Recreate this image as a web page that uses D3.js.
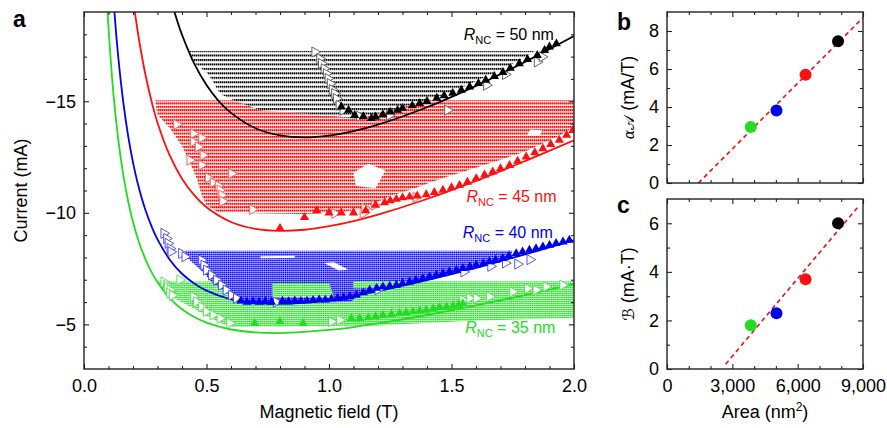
<!DOCTYPE html>
<html><head><meta charset="utf-8">
<script src="https://cdn.jsdelivr.net/npm/d3@7"></script>
<style>
body{margin:0;background:#fff;}
svg{font-family:"Liberation Sans",Arial,Helvetica,sans-serif;}
</style></head><body>
<svg id="chart" width="887" height="428"></svg>
<script>
// ---------------- DATA ----------------
// Fit curves, panel a (field B in T, current I in mA)
const fitB_50 = [0.30,0.33,0.35,0.38,0.40,0.45,0.50,0.55,0.60,0.70,0.80,0.90,1.00,1.10,1.20,1.40,1.60,1.80,2.00];
const fitI_50 = [-22.24,-20.64,-19.75,-18.62,-17.98,-16.69,-15.73,-15.01,-14.48,-13.79,-13.47,-13.38,-13.46,-13.66,-13.95,-14.73,-15.69,-16.76,-17.92];
const fitB_45 = [0.18,0.20,0.22,0.25,0.28,0.30,0.35,0.40,0.45,0.50,0.60,0.70,0.80,0.90,1.00,1.10,1.20,1.40,1.60,1.80,2.00];
const fitI_45 = [-21.58,-19.64,-18.07,-16.23,-14.81,-14.04,-12.57,-11.53,-10.79,-10.25,-9.59,-9.28,-9.19,-9.24,-9.40,-9.63,-9.92,-10.62,-11.43,-12.32,-13.25];
const fitB_40 = [0.10,0.12,0.14,0.16,0.18,0.20,0.22,0.25,0.28,0.30,0.35,0.40,0.45,0.50,0.60,0.70,0.80,0.90,1.00,1.10,1.20,1.40,1.60,1.80,2.00];
const fitI_40 = [-23.38,-19.62,-16.96,-14.98,-13.46,-12.26,-11.29,-10.15,-9.28,-8.81,-7.90,-7.27,-6.83,-6.51,-6.12,-5.95,-5.92,-5.98,-6.11,-6.28,-6.49,-6.98,-7.53,-8.14,-8.77];
const fitB_35 = [0.09,0.10,0.12,0.14,0.16,0.18,0.20,0.22,0.25,0.28,0.30,0.35,0.40,0.45,0.50,0.60,0.70,0.80,0.90,1.00,1.10,1.20,1.40,1.60,1.80,2.00];
const fitI_35 = [-20.27,-18.30,-15.35,-13.27,-11.72,-10.53,-9.59,-8.83,-7.94,-7.25,-6.89,-6.18,-5.68,-5.33,-5.08,-4.77,-4.64,-4.61,-4.66,-4.75,-4.88,-5.04,-5.42,-5.85,-6.31,-6.80];

// Simulated (dotted) regions, polygon outlines [B, I]
const region50 = [[0.43,-17.25],[1.84,-17.25],[1.78,-16.85],[1.71,-16.45],[1.63,-16.05],[1.55,-15.65],[1.47,-15.3],[1.39,-15.0],[1.32,-14.8],[1.25,-14.6],[1.18,-14.4],[1.12,-14.2],[1.05,-14.3],[0.9,-14.45],[0.72,-14.6],[0.62,-15.0],[0.56,-15.3],[0.54,-15.6],[0.52,-16.0],[0.5,-16.3],[0.47,-16.55],[0.44,-16.8],[0.43,-17.0]];
const region45 = [[0.29,-15.05],[2.0,-15.05],[2.0,-13.85],[1.94,-13.45],[1.87,-13.1],[1.8,-12.75],[1.72,-12.45],[1.65,-12.2],[1.55,-11.85],[1.45,-11.5],[1.35,-11.1],[1.25,-10.75],[1.2,-10.5],[1.15,-10.2],[1.05,-10.02],[0.9,-9.95],[0.55,-10.0],[0.5,-10.35],[0.48,-10.8],[0.46,-11.55],[0.43,-12.3],[0.40,-13.0],[0.35,-13.8],[0.30,-14.4]];
const holes45 = [[[1.11,-11.2],[1.19,-11.1],[1.23,-11.9],[1.16,-12.2],[1.10,-11.8]],[[1.81,-13.5],[1.86,-13.45],[1.87,-13.7],[1.82,-13.72]]];
const region40 = [[0.41,-8.3],[1.75,-8.3],[1.74,-8.05],[1.65,-7.8],[1.55,-7.5],[1.45,-7.2],[1.38,-7.0],[1.3,-6.8],[1.2,-6.55],[1.12,-6.3],[1.09,-6.0],[0.64,-5.95],[0.61,-6.15],[0.57,-6.5],[0.52,-6.9],[0.49,-7.3],[0.45,-7.7],[0.42,-8.0]];
const holes40 = [[[0.72,-8.05],[0.86,-8.08],[0.86,-7.98],[0.72,-7.96]],[[0.98,-7.75],[1.02,-7.78],[1.08,-7.45],[1.04,-7.42]]];
const region35 = [[0.30,-6.92],[2.0,-6.92],[2.0,-5.3],[1.56,-5.15],[1.2,-4.95],[0.6,-4.88],[0.55,-5.1],[0.5,-5.4],[0.45,-5.7],[0.38,-6.1],[0.32,-6.5]];
const patches35 = [[[0.77,-6.85],[1.0,-6.85],[1.02,-6.2],[0.77,-6.22]],[[1.1,-6.92],[2.0,-6.92],[2.0,-6.62],[1.1,-6.62]]];

// Measured points: filled (up triangles) and open (right triangles)
const filled50 = [[1.05,-14.75],[1.08,-14.6],[1.105,-14.37],[1.14,-14.32],[1.173,-14.23],[1.19,-14.3],[1.22,-14.4],[1.25,-14.52],[1.28,-14.6],[1.30,-14.69],[1.34,-14.8],[1.37,-14.9],[1.40,-15.0],[1.44,-15.14],[1.47,-15.25],[1.505,-15.36],[1.54,-15.5],[1.574,-15.65],[1.61,-15.8],[1.64,-15.95],[1.675,-16.12],[1.71,-16.3],[1.74,-16.48],[1.777,-16.69],[1.81,-16.88],[1.85,-17.06],[1.88,-17.28],[1.90,-17.44],[1.928,-17.58]];
const open50 = [[0.942,-17.21],[0.962,-16.91],[0.969,-16.69],[0.98,-16.46],[0.989,-16.24],[0.996,-16.02],[1.005,-15.79],[1.013,-15.52],[1.023,-15.35],[1.03,-15.12],[1.041,-14.82],[1.057,-14.6],[1.125,-14.33],[1.247,-14.37],[1.484,-14.6],[1.643,-15.72],[1.72,-16.2],[1.85,-16.76],[1.87,-16.99]];
const filled45 = [[0.80,-9.31],[0.90,-9.8],[0.95,-10.1],[1.0,-10.0],[1.05,-10.0],[1.10,-10.0],[1.15,-10.1],[1.19,-10.35],[1.227,-10.46],[1.25,-10.55],[1.275,-10.61],[1.30,-10.68],[1.329,-10.72],[1.36,-10.76],[1.397,-10.82],[1.43,-10.92],[1.465,-11.02],[1.50,-11.13],[1.533,-11.24],[1.565,-11.38],[1.601,-11.54],[1.635,-11.7],[1.668,-11.84],[1.70,-11.98],[1.737,-12.13],[1.77,-12.32],[1.805,-12.51],[1.84,-12.7],[1.873,-12.88],[1.905,-13.07],[1.94,-13.26],[1.97,-13.48],[1.995,-13.7]];
const open45 = [[0.378,-13.96],[0.446,-13.55],[0.48,-13.36],[0.446,-13.18],[0.466,-12.96],[0.486,-12.58],[0.432,-12.36],[0.48,-12.14],[0.602,-11.76],[0.507,-11.57],[0.527,-11.36],[0.548,-11.21],[0.555,-11.02],[0.562,-10.79],[0.566,-10.52],[0.688,-10.15],[1.023,-9.97],[1.139,-9.97],[1.146,-10.2],[1.186,-10.34],[1.355,-10.7]];
const filled40 = [[0.64,-6.05],[0.665,-6.0],[0.69,-6.02],[0.715,-6.0],[0.74,-6.03],[0.765,-6.0],[0.81,-6.05],[0.835,-6.02],[0.86,-6.06],[0.885,-6.04],[0.91,-6.05],[0.935,-6.08],[0.96,-6.1],[0.985,-6.1],[1.01,-6.14],[1.035,-6.17],[1.06,-6.2],[1.085,-6.25],[1.112,-6.31],[1.14,-6.42],[1.166,-6.54],[1.195,-6.62],[1.22,-6.69],[1.248,-6.72],[1.275,-6.76],[1.30,-6.84],[1.329,-6.91],[1.355,-6.98],[1.383,-7.06],[1.41,-7.13],[1.438,-7.21],[1.465,-7.28],[1.492,-7.36],[1.52,-7.43],[1.546,-7.51],[1.575,-7.58],[1.601,-7.66],[1.63,-7.73],[1.655,-7.81],[1.68,-7.88],[1.709,-7.96],[1.735,-8.07],[1.764,-8.18],[1.79,-8.25],[1.818,-8.33],[1.845,-8.4],[1.873,-8.48],[1.90,-8.55],[1.927,-8.63],[1.955,-8.7],[1.981,-8.78]];
const open40 = [[0.326,-9.08],[0.337,-8.85],[0.343,-8.63],[0.351,-8.40],[0.355,-8.25],[0.398,-8.18],[0.412,-8.03],[0.48,-7.88],[0.489,-7.66],[0.50,-7.43],[0.52,-7.21],[0.541,-6.99],[0.561,-6.76],[0.58,-6.54],[0.602,-6.31],[0.622,-6.17],[0.785,-6.0],[1.20,-6.55],[1.55,-7.35],[1.66,-7.6],[1.72,-7.75],[1.77,-7.7],[1.82,-7.9]];
const filled35 = [[0.697,-5.05],[0.799,-5.12],[0.894,-5.05],[1.091,-5.27],[1.125,-5.27],[1.16,-5.3],[1.19,-5.35],[1.22,-5.42],[1.255,-5.45],[1.288,-5.49],[1.315,-5.53],[1.343,-5.57],[1.37,-5.6],[1.397,-5.64],[1.425,-5.7],[1.451,-5.76],[1.48,-5.79],[1.506,-5.82],[1.53,-5.88],[1.546,-5.94]];
const open35 = [[0.326,-6.91],[0.337,-6.76],[0.34,-6.65],[0.351,-6.54],[0.35,-6.4],[0.36,-6.3],[0.391,-6.99],[0.446,-6.24],[0.459,-6.01],[0.48,-5.79],[0.50,-5.57],[0.527,-5.42],[0.555,-5.27],[0.595,-5.05],[1.01,-5.12],[1.044,-5.2],[1.546,-6.09],[1.574,-6.17],[1.601,-6.17],[1.655,-6.24],[1.75,-6.46],[1.81,-6.61],[1.845,-6.54],[1.886,-6.69],[1.954,-6.76]];

// Panels b and c
const radiiNC = [35, 40, 45, 50];
const areaNC = [3848, 5027, 6362, 7854];
const alphaA = [2.95, 3.81, 5.70, 7.46];
const betaB = [1.80, 2.30, 3.70, 6.00];
const fitLineB_x = [1440, 9000], fitLineB_y = [0, 8.7];
const fitLineC_x = [2695, 8830], fitLineC_y = [0.2, 6.74];

const xTicksA = [0, 0.5, 1.0, 1.5, 2.0];
const yTicksA = [-15, -10, -5];
const xTicksArea = [0, 3000, 6000, 9000];
const yTicksB = [0, 2, 4, 6, 8];
const yTicksC = [0, 2, 4, 6];

// ---------------- DRAWING ----------------
const C = {black:"#000000", red:"#ff1010", blue:"#0000f0", green:"#22dd22"};
const colorsNC = [C.green, C.blue, C.red, C.black];
const svg = d3.select("#chart");
const defs = svg.append("defs");
const FS = 18;

const xA = d3.scaleLinear().domain([0, 2]).range([84, 574]);
const yA = d3.scaleLinear().domain([-3, -19]).range([369, 12]);

defs.append("clipPath").attr("id","clipA").append("rect")
  .attr("x",xA(0)).attr("y",yA(-19)).attr("width",xA(2)-xA(0)).attr("height",yA(-3)-yA(-19));

function dotPattern(id, color, rowStep, dotStep, dw, dh, y0) {
  const h = Math.abs(yA(0) - yA(rowStep));
  const p = defs.append("pattern").attr("id", id).attr("patternUnits","userSpaceOnUse")
    .attr("width", dotStep).attr("height", h).attr("x", 0).attr("y", yA(y0) - dh/2);
  p.append("rect").attr("width", dw).attr("height", dh).attr("fill", color);
}
dotPattern("p50", C.black, 0.2, 2.0, 1.5, 2.0, -17.25);
dotPattern("p45", "#ff0000", 0.15, 2.0, 1.6, 2.0, -15.05);
dotPattern("p40", "#0000ee", 0.09, 1.9, 1.5, 1.6, -8.3);
dotPattern("p35", "#22dd22", 0.09, 1.9, 1.5, 1.6, -6.92);

const gA = svg.append("g");
const gPlot = gA.append("g").attr("clip-path","url(#clipA)");
const poly = d3.line().x(d => xA(d[0])).y(d => yA(d[1]));

function region(pts, pat, under) {
  if (under) gPlot.append("path").attr("d", poly(pts) + "Z").attr("fill", "#fff");
  gPlot.append("path").attr("d", poly(pts) + "Z").attr("fill", `url(#${pat})`);
}
function hole(pts) {
  gPlot.append("path").attr("d", poly(pts) + "Z").attr("fill", "#fff");
}
region(region35, "p35", false);
region(region40, "p40", true);
holes40.forEach(hole);
patches35.forEach(p => region(p, "p35", true));
region(region45, "p45", false);
holes45.forEach(hole);
region(region50, "p50", true);

// fit curves
const curveLine = d3.line().curve(d3.curveCatmullRom).x(d => xA(d[0])).y(d => yA(d[1]));
[[fitB_35, fitI_35, C.green],[fitB_40, fitI_40, C.blue],[fitB_45, fitI_45, C.red],[fitB_50, fitI_50, C.black]]
  .forEach(([bs, is, col]) => {
    gPlot.append("path").attr("d", curveLine(bs.map((b, i) => [b, is[i]])))
      .attr("fill","none").attr("stroke", col).attr("stroke-width", 1.8);
  });

// measured points
const triUp = d3.symbol().type(d3.symbolTriangle).size(36);
const triRight = d3.symbol().type(d3.symbolTriangle).size(44);
function openTri(data, col) {
  gPlot.append("g").selectAll("path").data(data).join("path")
    .attr("d", triRight())
    .attr("transform", d => `translate(${xA(d[0])},${yA(d[1])}) rotate(90)`)
    .attr("fill", "#fff").attr("stroke", col).attr("stroke-width", 0.9);
}
function filledTri(data, col) {
  gPlot.append("g").selectAll("path").data(data).join("path")
    .attr("d", triUp())
    .attr("transform", d => `translate(${xA(d[0])},${yA(d[1])})`)
    .attr("fill", col);
}
openTri(open35, "#55dd55"); filledTri(filled35, C.green);
openTri(open40, "#4444ee"); filledTri(filled40, C.blue);
openTri(open45, "#ff5555"); filledTri(filled45, C.red);
openTri(open50, "#555555"); filledTri(filled50, C.black);

// labels R_NC
function rnc(b, i, col, val) {
  const t = gA.append("text").attr("x", xA(b)).attr("y", yA(i)).attr("fill", col).attr("font-size", 16);
  t.append("tspan").attr("font-style","italic").text("R");
  t.append("tspan").attr("font-size", 11).attr("dy", 4).text("NC");
  t.append("tspan").attr("dy", -4).text(" = " + val + " nm");
}
rnc(1.55, -17.73, C.black, radiiNC[3]);
rnc(1.561, -10.48, C.red, radiiNC[2]);
rnc(1.546, -8.87, C.blue, radiiNC[1]);
rnc(1.556, -4.61, C.green, radiiNC[0]);

// axes helper
function frameAxes(g, x, y, xMaj, xMin, yMaj, yMin, xFmt, yFmt, showX) {
  const [x0, x1] = x.range(), [yb, yt] = y.range();
  const w = x1 - x0, h = yb - yt;
  const style = sel => { sel.select(".domain").remove(); sel.selectAll("line").attr("stroke","#222").attr("stroke-width",1.1); sel.selectAll("text").attr("font-size",FS).attr("fill","#000").attr("font-family","Liberation Sans, Arial, sans-serif"); };
  g.append("g").attr("transform",`translate(0,${yb})`).call(d3.axisBottom(x).tickValues(xMaj).tickSize(-5).tickPadding(10).tickFormat(showX ? xFmt : "")).call(style);
  g.append("g").attr("transform",`translate(0,${yb})`).call(d3.axisBottom(x).tickValues(xMin).tickSize(-3).tickFormat("")).call(style);
  g.append("g").attr("transform",`translate(0,${yt})`).call(d3.axisTop(x).tickValues(xMaj).tickSize(-5).tickFormat("")).call(style);
  g.append("g").attr("transform",`translate(0,${yt})`).call(d3.axisTop(x).tickValues(xMin).tickSize(-3).tickFormat("")).call(style);
  g.append("g").attr("transform",`translate(${x0},0)`).call(d3.axisLeft(y).tickValues(yMaj).tickSize(-5).tickPadding(8).tickFormat(yFmt)).call(style);
  g.append("g").attr("transform",`translate(${x0},0)`).call(d3.axisLeft(y).tickValues(yMin).tickSize(-3).tickFormat("")).call(style);
  g.append("g").attr("transform",`translate(${x1},0)`).call(d3.axisRight(y).tickValues(yMaj).tickSize(-5).tickFormat("")).call(style);
  g.append("g").attr("transform",`translate(${x1},0)`).call(d3.axisRight(y).tickValues(yMin).tickSize(-3).tickFormat("")).call(style);
  g.append("rect").attr("x",x0).attr("y",yt).attr("width",w).attr("height",h)
    .attr("fill","none").attr("stroke","#222").attr("stroke-width",1.4);
}
const minorA_x = d3.range(0, 2.001, 0.1).filter(v => Math.abs(v*2 - Math.round(v*2)) > 1e-6);
const minorA_y = d3.range(-18, -3.5, 1).filter(v => v % 5 !== 0);
frameAxes(gA, xA, yA, xTicksA, minorA_x, yTicksA, minorA_y, d3.format(".1f"), d3.format("d"), true);

gA.append("text").attr("x", (xA(0)+xA(2))/2).attr("y", 418).attr("text-anchor","middle").attr("font-size",FS).text("Magnetic field (T)");
gA.append("text").attr("transform",`translate(27,${(yA(-3)+yA(-19))/2}) rotate(-90)`).attr("text-anchor","middle").attr("font-size",FS).text("Current (mA)");
svg.append("text").attr("x",13).attr("y",27).attr("font-size",23).attr("font-weight","bold").text("a");

// Panel b
const xAr = d3.scaleLinear().domain([0, 9000]).range([667, 863]);
const yB = d3.scaleLinear().domain([0, 9]).range([183, 12]);
const yC = d3.scaleLinear().domain([0, 7]).range([369, 199]);
const minorArea = d3.range(0, 9001, 1000).filter(v => v % 3000 !== 0);

const gB = svg.append("g");
gB.append("line").attr("x1", xAr(fitLineB_x[0])).attr("y1", yB(fitLineB_y[0])).attr("x2", xAr(fitLineB_x[1])).attr("y2", yB(fitLineB_y[1]))
  .attr("stroke","#ee1111").attr("stroke-width",1.6).attr("stroke-dasharray","4.5,3.5");
gB.selectAll("circle").data(areaNC).join("circle").attr("cx", d => xAr(d)).attr("cy", (d,i) => yB(alphaA[i])).attr("r", 6)
  .attr("fill", (d,i) => colorsNC[i]);
frameAxes(gB, xAr, yB, xTicksArea, minorArea, yTicksB, [1,3,5,7], d3.format(","), d3.format("d"), false);
const lb = gB.append("text").attr("transform",`translate(634,${(yB(0)+yB(9))/2}) rotate(-90)`).attr("text-anchor","middle").attr("font-size",FS);
lb.append("tspan").attr("font-style","italic").attr("font-family","DejaVu Serif, serif").attr("font-size",14).text("α");
lb.append("tspan").attr("font-family","DejaVu Serif, DejaVu Sans, serif").attr("font-size",15).text("𝒜");
lb.append("tspan").text(" (mA/T)");
svg.append("text").attr("x",617).attr("y",30).attr("font-size",23).attr("font-weight","bold").text("b");

// Panel c
const gC = svg.append("g");
gC.append("line").attr("x1", xAr(fitLineC_x[0])).attr("y1", yC(fitLineC_y[0])).attr("x2", xAr(fitLineC_x[1])).attr("y2", yC(fitLineC_y[1]))
  .attr("stroke","#ee1111").attr("stroke-width",1.6).attr("stroke-dasharray","4.5,3.5");
gC.selectAll("circle").data(areaNC).join("circle").attr("cx", d => xAr(d)).attr("cy", (d,i) => yC(betaB[i])).attr("r", 6)
  .attr("fill", (d,i) => colorsNC[i]);
frameAxes(gC, xAr, yC, xTicksArea, minorArea, yTicksC, [1,3,5], d3.format(","), d3.format("d"), true);
const lc = gC.append("text").attr("transform",`translate(634,${(yC(0)+yC(7))/2}) rotate(-90)`).attr("text-anchor","middle").attr("font-size",FS);
lc.append("tspan").attr("font-family","DejaVu Serif, DejaVu Sans, serif").attr("font-size",16).text("ℬ");
lc.append("tspan").text(" (mA·T)");
const at = gC.append("text").attr("x",(xAr(0)+xAr(9000))/2).attr("y",418).attr("text-anchor","middle").attr("font-size",FS);
at.append("tspan").text("Area (nm");
at.append("tspan").attr("font-size",12).attr("dy",-7).text("2");
at.append("tspan").attr("dy",7).text(")");
svg.append("text").attr("x",617).attr("y",213).attr("font-size",23).attr("font-weight","bold").text("c");
</script>
</body></html>
